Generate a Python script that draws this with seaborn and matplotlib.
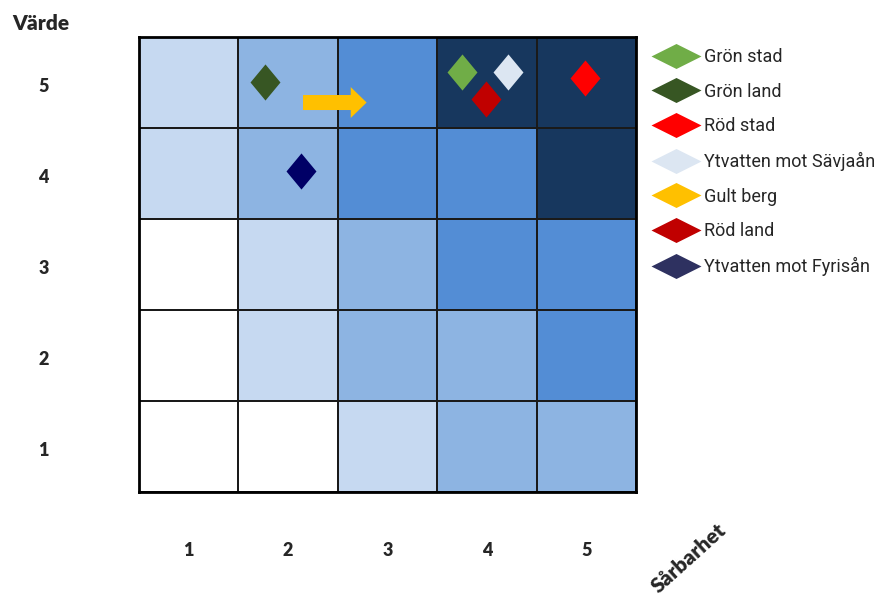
import numpy as np
import pandas as pd
import matplotlib
matplotlib.use("Agg")
import matplotlib.pyplot as plt
import matplotlib.transforms as mtransforms
import seaborn as sns
from matplotlib.colors import ListedColormap
from matplotlib.lines import Line2D
from matplotlib.path import Path
from matplotlib.patches import FancyArrow

# ---- data ----
sarbarhet = [1, 2, 3, 4, 5]            # x categories
varde = [5, 4, 3, 2, 1]                # y categories (top to bottom)
# risk level per cell (rows = Värde 5..1, cols = Sårbarhet 1..5)
level_v5 = [1, 2, 3, 4, 4]
level_v4 = [1, 2, 3, 3, 4]
level_v3 = [0, 1, 2, 3, 3]
level_v2 = [0, 1, 2, 2, 3]
level_v1 = [0, 0, 1, 2, 2]
level_colors = ["#FFFFFF", "#C6D9F1", "#8DB4E2", "#538DD5", "#17375E"]

series_names = ["Grön stad", "Grön land", "Röd stad", "Ytvatten mot Sävjaån",
                "Gult berg", "Röd land", "Ytvatten mot Fyrisån"]
series_colors = ["#70AD47", "#375623", "#FF0000", "#DCE6F2",
                 "#FFC000", "#C00000", "#000066"]
legend_colors = ["#70AD47", "#375623", "#FF0000", "#DCE6F2",
                 "#FFC000", "#C00000", "#2E3160"]
# positions (Sårbarhet, Värde)
series_x = [3.75, 1.77, 4.99, 4.21, None, 3.99, 2.13]
series_y = [5.11, 5.01, 5.05, 5.11, None, 4.82, 4.03]
# Gult berg shown as an arrow (start -> end)
arrow_x = [2.15, 2.79]
arrow_y = [4.78, 4.78]

# ---- figure ----
sns.set_theme(style="white")
plt.rcParams["font.family"] = ["Lato", "DejaVu Sans"]

fig = plt.figure(figsize=(8.74, 5.97), dpi=100)
ax = fig.add_axes([139/874, 1-492/597, (636-139)/874, (492-37)/597])

grid = pd.DataFrame([level_v5, level_v4, level_v3, level_v2, level_v1],
                    index=varde, columns=sarbarhet)
sns.heatmap(grid, ax=ax, cmap=ListedColormap(level_colors), vmin=-0.5, vmax=4.5,
            cbar=False, linewidths=1.4, linecolor="#1a1a1a", square=False)

for s in ax.spines.values():
    s.set_visible(True)
    s.set_color("black")
    s.set_linewidth(2)


def to_h(x, y):
    return x - 0.5, 5.5 - y


diamond = Path([(0, 1), (0.83, 0), (0, -1), (-0.83, 0), (0, 1)],
               [Path.MOVETO, Path.LINETO, Path.LINETO, Path.LINETO, Path.CLOSEPOLY])
flat_diamond = Path([(0, 0.5), (1, 0), (0, -0.5), (-1, 0), (0, 0.5)],
                    [Path.MOVETO, Path.LINETO, Path.LINETO, Path.LINETO, Path.CLOSEPOLY])

for name, c, x, y in zip(series_names, series_colors, series_x, series_y):
    if x is None:
        continue
    hx, hy = to_h(x, y)
    ax.plot([hx], [hy], marker=diamond, markersize=26, color=c,
            markeredgewidth=0, linestyle="None")

ax0x, ax0y = to_h(arrow_x[0], arrow_y[0])
ax1x, _ = to_h(arrow_x[1], arrow_y[1])
ax.add_patch(FancyArrow(ax0x, ax0y, ax1x - ax0x, 0, width=0.165, head_width=0.34,
                        head_length=0.16, length_includes_head=True,
                        color="#FFC000", linewidth=0))

ax.set_xticks(np.arange(5) + 0.5)
ax.set_xticklabels([str(v) for v in sarbarhet], fontsize=13, fontweight="heavy")
ax.set_yticks(np.arange(5) + 0.5)
ax.set_yticklabels([str(v) for v in varde], fontsize=13, fontweight="heavy",
                   rotation=0, va="center")
ax.tick_params(axis="x", length=0, pad=36)
ax.tick_params(axis="y", length=0, pad=65)
shift = mtransforms.ScaledTranslation(0, -4/100, fig.dpi_scale_trans)
for lab in ax.get_yticklabels():
    lab.set_transform(lab.get_transform() + shift)
ax.set_xlabel("")
ax.set_ylabel("")

fig.text(12/874, 1-30/597, "Värde", fontsize=15, fontweight="heavy",
         va="baseline", ha="left")
fig.text(689/874, 1-558/597, "Sårbarhet", fontsize=15, fontweight="heavy",
         rotation=42, ha="center", va="center")

handles = [Line2D([], [], marker=flat_diamond, markersize=36, color=c,
                  markeredgewidth=0, linestyle="None") for c in legend_colors]
fig.legend(handles, series_names, loc="upper left",
           bbox_to_anchor=(650/874, 1-48/597), frameon=False,
           prop={"family": "Roboto", "size": 13}, labelcolor="#262626",
           handlelength=2.88, handletextpad=0.1, labelspacing=0.92,
           borderpad=0, borderaxespad=0)

fig.savefig("out.png", dpi=100)
